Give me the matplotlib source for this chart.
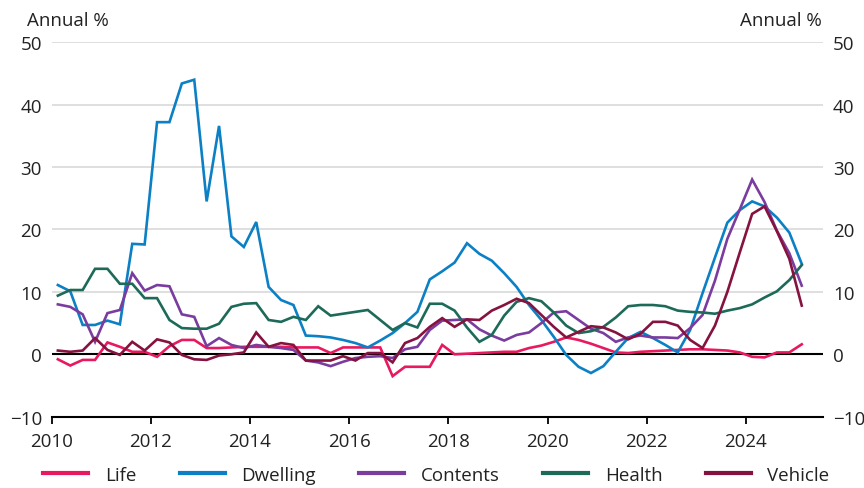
import numpy as np
import matplotlib
matplotlib.use("Agg")
import matplotlib.pyplot as plt

plt.rcParams['font.family'] = ['Open Sans', 'DejaVu Sans']

# Quarterly observations, 2010 Q1 to 2025 Q1, plotted at mid-quarter
start_year = 2010
n_quarters = 61

life = [-0.8, -1.8, -0.9, -0.9, 1.9, 1.2, 0.4, 0.4, -0.4, 1.3,
        2.3, 2.3, 1.0, 1.0, 1.1, 1.2, 1.2, 1.2, 1.2, 1.1,
        1.1, 1.1, 0.2, 1.1, 1.1, 1.1, 1.1, -3.5, -2.0, -2.0,
        -2.0, 1.5, 0.0, 0.1, 0.2, 0.3, 0.4, 0.4, 1.0, 1.4,
        2.0, 2.7, 2.3, 1.7, 1.0, 0.3, 0.2, 0.4, 0.5, 0.6,
        0.7, 0.8, 0.8, 0.7, 0.6, 0.3, -0.4, -0.5, 0.3, 0.3,
        1.6]

dwelling = [11.1, 10.1, 4.7, 4.7, 5.4, 4.8, 17.7, 17.6, 37.2, 37.2,
            43.4, 44.0, 24.5, 36.6, 18.9, 17.2, 21.2, 10.8, 8.7, 7.9,
            3.0, 2.9, 2.7, 2.3, 1.8, 1.1, 2.2, 3.4, 5.0, 6.8,
            12.0, 13.3, 14.7, 17.8, 16.1, 15.0, 13.0, 10.8, 7.9, 5.5,
            2.8, -0.1, -2.0, -3.0, -1.9, 0.4, 2.6, 3.6, 2.6, 1.5,
            0.3, 3.9, 9.8, 15.5, 21.1, 23.1, 24.5, 23.7, 21.9, 19.5,
            14.5]

contents = [8.0, 7.6, 6.4, 2.0, 6.6, 7.1, 13.0, 10.2, 11.1, 10.9,
            6.4, 6.0, 1.3, 2.6, 1.5, 1.0, 1.5, 1.2, 1.0, 0.7,
            -1.0, -1.3, -1.9, -1.2, -0.6, -0.4, -0.3, -0.6, 0.8, 1.2,
            3.9, 5.4, 5.5, 5.6, 4.0, 3.0, 2.2, 3.1, 3.5, 5.0,
            6.7, 6.9, 5.5, 4.1, 3.4, 2.0, 2.7, 3.0, 2.7, 2.7,
            2.6, 4.2, 6.3, 11.8, 18.5, 23.2, 28.0, 24.4, 19.8, 16.2,
            11.0]

health = [9.4, 10.3, 10.3, 13.7, 13.7, 11.3, 11.3, 9.0, 9.0, 5.5,
          4.2, 4.1, 4.1, 4.9, 7.6, 8.1, 8.2, 5.5, 5.2, 6.0,
          5.5, 7.7, 6.2, 6.5, 6.8, 7.1, 5.5, 3.9, 5.0, 4.3,
          8.1, 8.1, 7.0, 4.3, 2.0, 3.1, 6.2, 8.4, 9.0, 8.5,
          6.7, 4.6, 3.4, 3.7, 4.4, 5.9, 7.7, 7.9, 7.9, 7.7,
          7.0, 6.8, 6.7, 6.5, 7.0, 7.4, 8.0, 9.1, 10.1, 11.9,
          14.3]

vehicle = [0.6, 0.4, 0.6, 2.6, 0.7, -0.1, 2.0, 0.6, 2.4, 1.9,
           -0.1, -0.8, -0.9, -0.2, 0.0, 0.3, 3.5, 1.2, 1.8, 1.5,
           -1.0, -1.0, -1.0, -0.3, -1.0, 0.2, 0.2, -1.3, 1.8, 2.6,
           4.4, 5.8, 4.4, 5.6, 5.5, 7.0, 7.9, 8.9, 8.2, 6.3,
           4.4, 2.7, 3.6, 4.5, 4.3, 3.5, 2.4, 3.3, 5.2, 5.2,
           4.6, 2.3, 1.0, 4.6, 10.0, 16.3, 22.5, 23.7, 19.7, 15.3,
           7.8]

series_names = ['Life', 'Dwelling', 'Contents', 'Health', 'Vehicle']
series_values = [life, dwelling, contents, health, vehicle]
series_colors = ['#E8195F', '#0B80C5', '#7A3C9E', '#1D6A59', '#85123F']

year_ticks = [2010, 2012, 2014, 2016, 2018, 2020, 2022, 2024]
y_ticks = [-10, 0, 10, 20, 30, 40, 50]

t = start_year + 0.125 + 0.25 * np.arange(n_quarters)

fig = plt.figure(figsize=(8.64, 4.89), dpi=100)
ax = fig.add_axes([0.0598, 0.1458, 0.8931, 0.7657])

text_color = '#222222'

for name, vals, col in zip(series_names, series_values, series_colors):
    ax.plot(t, vals, color=col, lw=1.9, label=name, solid_joinstyle='miter', zorder=3)

ax.set_xlim(2010, 2025.56)
ax.set_ylim(-10, 50)

ax.set_yticks(y_ticks)
ax.set_xticks(year_ticks)
ax.set_xticklabels([str(y) for y in year_ticks])
ax.yaxis.grid(True, color='#d9d9d9', lw=1.2, zorder=0)
ax.axhline(0, color='black', lw=1.5, zorder=2)

for s in ['top', 'left', 'right']:
    ax.spines[s].set_visible(False)
ax.spines['bottom'].set_color('black')
ax.spines['bottom'].set_linewidth(1.5)

ax.tick_params(axis='y', length=0, pad=7, labelsize=13.5, colors=text_color,
               labelleft=True, labelright=True)
ax.tick_params(axis='x', length=5, width=1.3, pad=6, labelsize=13.5,
               colors='black', labelcolor=text_color)

ax.set_yticklabels(['\u221210', '0', '10', '20', '30', '40', '50'])

fig.text(0.031, 0.958, 'Annual %', fontsize=13.5, color=text_color, ha='left', va='center')
fig.text(0.951, 0.958, 'Annual %', fontsize=13.5, color=text_color, ha='right', va='center')

leg = fig.legend(loc='center', bbox_to_anchor=(0.505, 0.027), ncol=5, frameon=False,
                 fontsize=13.5, handlelength=2.4, handletextpad=0.9, columnspacing=2.3)
for line in leg.get_lines():
    line.set_linewidth(3)
for txt in leg.get_texts():
    txt.set_color(text_color)

fig.savefig('out.png', dpi=100)
